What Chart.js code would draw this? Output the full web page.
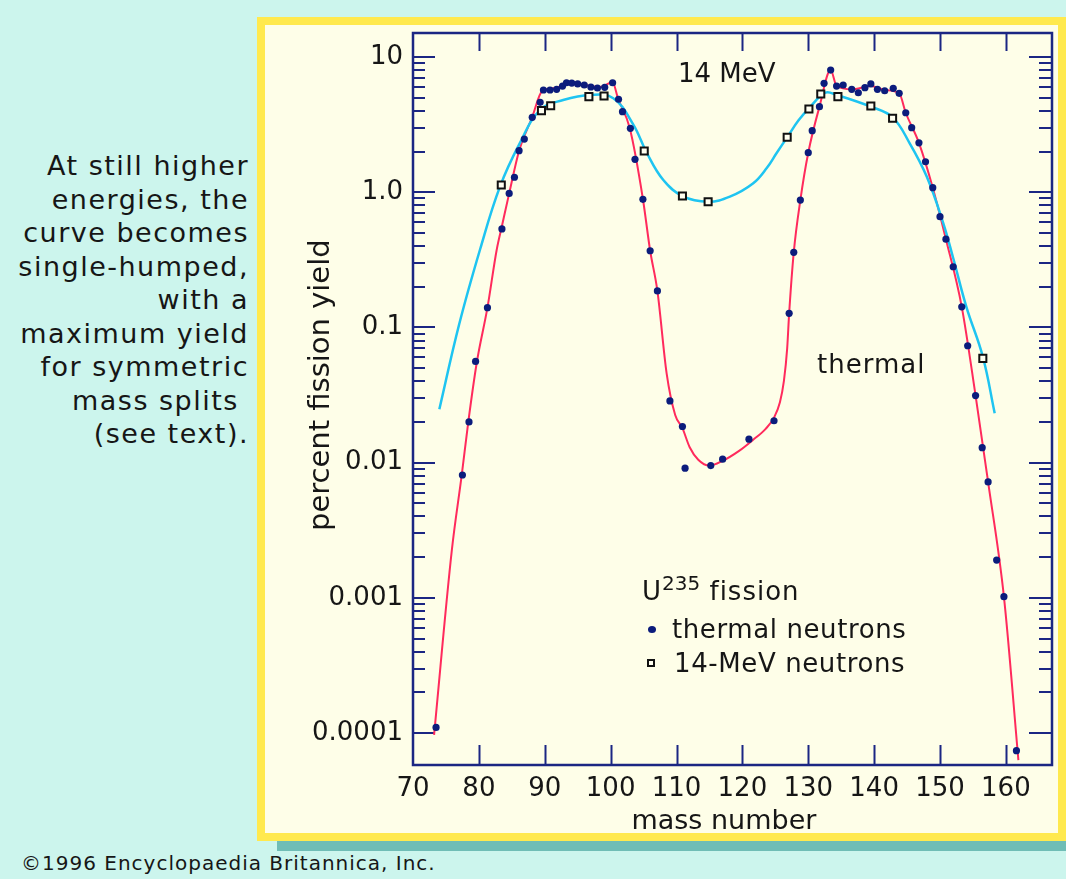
<!DOCTYPE html>
<html><head><meta charset="utf-8">
<script src="https://cdn.jsdelivr.net/npm/chart.js@4.4.1/dist/chart.umd.min.js"></script>
<style>
html,body{margin:0;padding:0;}
body{width:1066px;height:879px;background:#ccf5ed;position:relative;overflow:hidden;font-family:"DejaVu Sans",sans-serif;color:#161616;}
#frame{position:absolute;left:257px;top:17px;width:809px;height:824px;box-sizing:border-box;border:8px solid #ffe94e;background:#fefee8;}
#shadow{position:absolute;left:277px;top:841px;width:789px;height:10px;background:#6fbdb6;}
#chart{position:absolute;left:0;top:0;z-index:2;}
.t{position:absolute;z-index:3;white-space:nowrap;line-height:1;font-size:26px;}
#side{position:absolute;left:0;top:149px;width:249px;text-align:right;font-size:27px;line-height:33.5px;letter-spacing:1.5px;white-space:nowrap;}
#copy{position:absolute;left:21px;top:853px;font-size:20px;line-height:1;letter-spacing:1px;white-space:nowrap;}
.dot{position:absolute;z-index:3;left:648px;top:626px;width:8px;height:7px;border-radius:50%;background:#0b1c7c;}
.sq{position:absolute;z-index:3;left:647px;top:659px;width:8px;height:8px;box-sizing:border-box;border:2px solid #111;background:#fffff0;}
</style></head>
<body>
<div id="frame"></div>
<div id="shadow"></div>
<div id="side">At still higher<br>energies, the<br>curve becomes<br>single-humped,<br>with a<br>maximum yield<br>for symmetric<br>mass splits&nbsp;<br>(see text).</div>
<div id="copy">©1996 Encyclopaedia Britannica, Inc.</div>
<canvas id="chart" width="1066" height="879"></canvas>
<div class="t" style="left:678px;top:60px;">14 MeV</div>
<div class="t" style="left:817px;top:351px;letter-spacing:1px;">thermal</div>
<div class="t" style="left:642px;top:578px;letter-spacing:1px;">U<span style="font-size:20px;position:relative;top:-10px;letter-spacing:0;">235</span> fission</div>
<div class="dot"></div>
<div class="t" style="left:672px;top:616px;letter-spacing:0.6px;">thermal neutrons</div>
<div class="sq"></div>
<div class="t" style="left:674px;top:650px;letter-spacing:0.6px;">14-MeV neutrons</div>
<script>
// ---- data ----
const thermalMass = [73.5, 77.5, 78.5, 79.5, 81.3, 83.5, 84.6, 85.4, 86.1, 86.9, 88.1, 89.3, 89.8, 90.8, 91.8, 92.7, 93.3, 94.1, 95.0, 96.0, 97.0, 98.0, 99.1, 100.3, 101.2, 101.8, 103.0, 103.7, 104.9, 106.0, 107.1, 109.0, 110.9, 111.3, 115.2, 117.0, 121.0, 124.8, 127.1, 127.8, 128.8, 130.0, 130.6, 131.7, 132.4, 133.4, 134.3, 135.3, 136.6, 137.6, 138.6, 139.5, 140.5, 141.6, 142.9, 143.8, 144.8, 145.7, 146.8, 147.8, 148.9, 150.0, 150.9, 152.0, 153.3, 154.2, 155.4, 156.4, 157.3, 158.6, 159.7, 161.6];
const thermalYield = [0.00011, 0.0081, 0.020, 0.056, 0.14, 0.535, 0.98, 1.29, 2.03, 2.47, 3.58, 4.62, 5.70, 5.70, 5.77, 6.10, 6.45, 6.42, 6.32, 6.21, 6.00, 5.90, 5.97, 6.45, 4.87, 3.94, 2.97, 1.75, 0.886, 0.369, 0.186, 0.0286, 0.0185, 0.0091, 0.0095, 0.0106, 0.0149, 0.0204, 0.127, 0.359, 0.875, 1.96, 2.85, 4.29, 6.39, 8.01, 6.10, 6.21, 5.77, 5.44, 5.93, 6.32, 5.77, 5.63, 5.87, 5.39, 3.87, 3.00, 2.32, 1.68, 1.08, 0.659, 0.449, 0.281, 0.142, 0.0732, 0.0313, 0.0129, 0.0072, 0.0019, 0.00102, 0.000074];

const mevMass = [83.4, 89.5, 90.9, 96.7, 99.0, 105.1, 110.9, 114.8, 126.8, 130.1, 131.9, 134.5, 139.5, 142.8, 156.5];
const mevYield = [1.13, 4.01, 4.36, 5.09, 5.15, 2.02, 0.937, 0.851, 2.55, 4.12, 5.33, 5.09, 4.34, 3.52, 0.059];

const thermalCurveMass = [73.2, 75.9, 77.4, 78.4, 79.7, 81.3, 82.7, 83.5, 84.6, 86.1, 88.1, 89.6, 91.7, 93.5, 96.0, 98.4, 100.3, 101.1, 102.9, 104.9, 106.0, 107.1, 108.5, 109.8, 110.9, 112.0, 113.3, 115.0, 117.0, 119.5, 121.6, 123.5, 124.8, 125.7, 126.3, 126.8, 127.1, 127.8, 128.8, 130.0, 131.7, 133.4, 134.3, 136.6, 139.5, 141.6, 143.8, 144.8, 146.8, 148.9, 150.9, 153.3, 155.4, 157.3, 159.7, 161.9];
const thermalCurveYield = [0.000097, 0.00226, 0.0081, 0.0201, 0.0557, 0.140, 0.374, 0.562, 0.98, 2.02, 3.60, 5.6, 5.9, 6.4, 6.2, 6.0, 6.5, 4.97, 2.98, 0.891, 0.369, 0.186, 0.0457, 0.0225, 0.0180, 0.0130, 0.0105, 0.0095, 0.0103, 0.0122, 0.0147, 0.0177, 0.0215, 0.028, 0.040, 0.070, 0.127, 0.359, 0.875, 1.96, 4.29, 8.0, 6.1, 5.77, 6.1, 5.70, 5.39, 3.87, 2.32, 1.08, 0.449, 0.142, 0.0313, 0.0072, 0.00102, 0.000063];

const mevCurveMass = [74.0, 77.0, 80.2, 83.2, 86.2, 89.3, 92.8, 96.9, 100.4, 103.4, 105.5, 108.0, 110.9, 114.8, 118.1, 121.6, 123.7, 125.2, 126.8, 128.5, 130.1, 132.6, 134.3, 139.5, 142.8, 145.4, 148.0, 150.5, 152.0, 154.0, 156.5, 158.3];
const mevCurveYield = [0.0248, 0.105, 0.38, 1.10, 2.30, 4.06, 4.81, 5.24, 4.95, 3.19, 1.95, 1.23, 0.937, 0.851, 0.927, 1.16, 1.51, 1.95, 2.55, 3.39, 4.17, 5.45, 5.24, 4.29, 3.58, 2.30, 1.30, 0.589, 0.326, 0.142, 0.0607, 0.0232];

const xTickValues = [70, 80, 90, 100, 110, 120, 130, 140, 150, 160];
const yTickValues = [0.0001, 0.001, 0.01, 0.1, 1, 10];
const yTickLabels = ['0.0001', '0.001', '0.01', '0.1', '1.0', '10'];
const yMinorSteps = [2, 3, 4, 5, 6, 7, 8, 9];

// ---- styles ----
const AXIS = '#1b2683';
const NAVY = '#0b1c7c';
const RED = '#ff2a5c';
const CYAN = '#1ec4f1';
const TXT = '#161616';
const FONT = '"DejaVu Sans", sans-serif';

const pts = (xs, ys) => xs.map((x, i) => ({x: x, y: ys[i]}));

const frameTicks = {
  id: 'frameTicks',
  beforeDatasetsDraw(chart) {
    const {ctx, chartArea: a, scales: {x, y}} = chart;
    ctx.save();
    ctx.strokeStyle = AXIS;
    ctx.lineWidth = 2;
    ctx.beginPath();
    xTickValues.forEach(v => {
      const px = Math.round(x.getPixelForValue(v)) + 0.5;
      if (px - a.left < 3) return;
      ctx.moveTo(px, a.bottom); ctx.lineTo(px, a.bottom - 20);
      ctx.moveTo(px, a.top); ctx.lineTo(px, a.top + 18);
    });
    yTickValues.forEach((v, i) => {
      const py = Math.round(y.getPixelForValue(v));
      ctx.moveTo(a.left, py); ctx.lineTo(a.left + 22, py);
      ctx.moveTo(a.right, py); ctx.lineTo(a.right - 23, py);
      if (i < yTickValues.length - 1) {
        yMinorSteps.forEach(k => {
          const pm = Math.round(y.getPixelForValue(v * k));
          ctx.moveTo(a.left, pm); ctx.lineTo(a.left + 12, pm);
          ctx.moveTo(a.right, pm); ctx.lineTo(a.right - 13, pm);
        });
      }
    });
    ctx.stroke();
    ctx.lineWidth = 2.5;
    ctx.strokeRect(a.left, a.top, a.right - a.left, a.bottom - a.top);
    ctx.restore();
  }
};

new Chart(document.getElementById('chart'), {
  type: 'scatter',
  data: {
    datasets: [
      {data: pts(mevMass, mevYield), pointStyle: 'rect', pointRadius: 5, pointBorderWidth: 2,
       pointBorderColor: '#111', pointBackgroundColor: '#fffff0', showLine: false},
      {data: pts(thermalMass, thermalYield), pointStyle: 'circle', pointRadius: 3.6, pointBorderWidth: 0,
       pointBackgroundColor: NAVY, pointBorderColor: NAVY, showLine: false},
      {data: pts(mevCurveMass, mevCurveYield), showLine: true, pointRadius: 0, borderColor: CYAN,
       borderWidth: 2.5, tension: 0.4},
      {data: pts(thermalCurveMass, thermalCurveYield), showLine: true, pointRadius: 0, borderColor: RED,
       borderWidth: 2, cubicInterpolationMode: 'monotone'}
    ]
  },
  options: {
    responsive: false, animation: false, devicePixelRatio: 1, events: [],
    layout: {padding: {left: 300, right: 14, top: 33, bottom: 36}},
    plugins: {legend: {display: false}, tooltip: {enabled: false}},
    scales: {
      x: {
        type: 'linear', position: 'bottom', min: 70, max: 167, bounds: 'data',
        grid: {display: false, drawTicks: false}, border: {display: false},
        afterBuildTicks: s => { s.ticks = xTickValues.map(v => ({value: v})); },
        afterFit: s => { s.height = 879 - 36 - 765; },
        ticks: {autoSkip: false, maxRotation: 0, padding: 9, color: TXT, font: {family: FONT, size: 26},
                callback: v => String(v)},
        title: {display: true, text: 'mass number  ', color: TXT, font: {family: FONT, size: 27},
                padding: {top: 0, bottom: 5}}
      },
      y: {
        type: 'logarithmic', position: 'left', min: 0.000058, max: 15.05, bounds: 'data',
        grid: {display: false, drawTicks: false}, border: {display: false},
        afterBuildTicks: s => { s.ticks = yTickValues.map(v => ({value: v})); },
        afterFit: s => { s.width = 413 - 300; },
        ticks: {autoSkip: false, padding: 10, color: TXT, font: {family: FONT, size: 26},
                callback: v => { const i = yTickValues.indexOf(v); return i >= 0 ? yTickLabels[i] : ''; }},
        title: {display: true, text: '   percent fission yield', color: TXT, font: {family: FONT, size: 29},
                padding: {top: 4, bottom: 0}}
      }
    }
  },
  plugins: [frameTicks]
});
</script>
</body></html>
